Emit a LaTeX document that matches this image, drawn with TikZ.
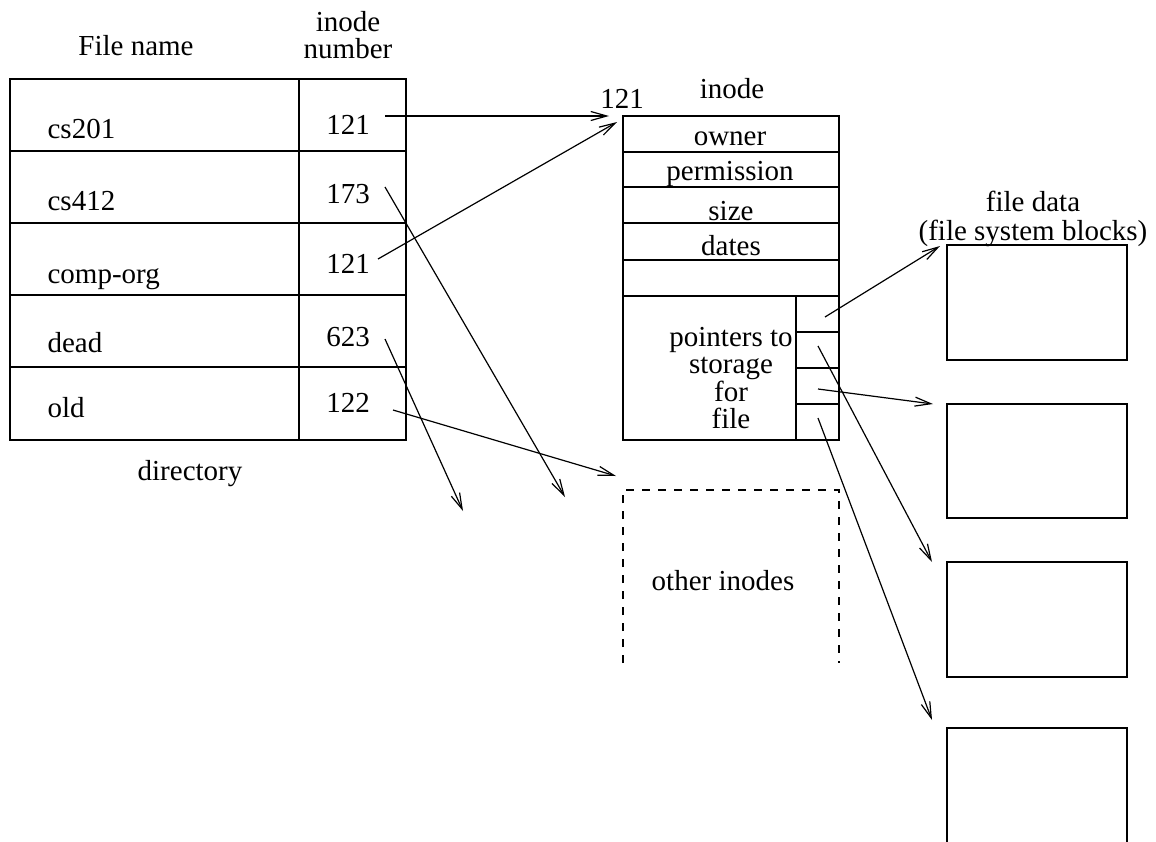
\documentclass[tikz,border=0pt]{standalone}
\usepackage{fontspec}
\setmainfont{Liberation Serif}
\usepackage{tikz}
\usetikzlibrary{arrows.meta}
\tikzstyle{entry} = [inner sep=0pt, font=\fontsize{14.5}{17}\selectfont]
\tikzstyle{fname} = [entry, anchor=base west]
\tikzstyle{inum} = [entry, anchor=base]
\tikzstyle{caption} = [entry, align=center]
\tikzstyle{blk} = [draw=black, line width=0.6pt]
\tikzstyle{others} = [blk, dash pattern=on 4pt off 4pt]
\tikzstyle{ptr} = [-{Straight Barb[length=8pt,width=4.5pt]}, line width=0.6pt]
\newcommand{\edge}[3][]{ %
  % Connect all points #2 to all points #3.
  \foreach \x in {#2} { %
    \foreach \y in {#3} { %
      \path (\x) edge [ptr, #1] (\y) ;%
    } ;
  } ;
}

\begin{document}
\begin{tikzpicture}[x=0.5pt, y=-0.5pt, line width=0.6pt]
  \useasboundingbox (0,0) rectangle (1156,841);
  \clip (0,0) rectangle (1156,841);
  % directory
  \node[inum](hname) at (136,55) {File name};
  \node[caption, font=\fontsize{14.5}{13.2}\selectfont](hnum) at (348,35) {inode\\number};
  \draw[blk] (10,79) rectangle (406,440);
  \draw[blk] (299,79) -- (299,440);
  \foreach \y in {151,223,295,367}
    \draw[blk] (10,\y) -- (406,\y);
  \node[fname](n1) at (47,138) {cs201};
  \node[fname](n2) at (47,210) {cs412};
  \node[fname](n3) at (47,283) {comp-org};
  \node[fname](n4) at (47,352) {dead};
  \node[fname](n5) at (47,417) {old};
  \node[inum](i1) at (348,134) {121};
  \node[inum](i2) at (348,203) {173};
  \node[inum](i3) at (348,273) {121};
  \node[inum](i4) at (348,346) {623};
  \node[inum](i5) at (348,412) {122};
  \node[inum](dir) at (190,480) {directory};
  % inode
  \node[inum](inum) at (622,108) {121};
  \node[inum](ititle) at (732,98) {inode};
  \draw[blk] (623,116) rectangle (839,440);
  \foreach \y in {152,187,223,260,296}
    \draw[blk] (623,\y) -- (839,\y);
  \draw[blk] (796,296) -- (796,440);
  \foreach \y in {332,368,404}
    \draw[blk] (796,\y) -- (839,\y);
  \node[inum](owner) at (730,145) {owner};
  \node[inum](perm) at (730,180) {permission};
  \node[inum](size) at (731,220) {size};
  \node[inum](dates) at (731,255) {dates};
  \node[caption, font=\fontsize{14.5}{13.3}\selectfont](ptrs) at (731,378) {pointers to\\storage\\for\\file};
  % other inodes
  \draw[others] (623,663) -- (623,490) -- (839,490) -- (839,663);
  \node[inum](oth) at (723,590) {other inodes};
  % file data
  \node[caption, font=\fontsize{14.5}{14.5}\selectfont](fdata) at (1033,219) {file data\\(file system blocks)};
  \draw[blk] (947,245) rectangle (1127,360);
  \draw[blk] (947,404) rectangle (1127,518);
  \draw[blk] (947,562) rectangle (1127,677);
  \draw[blk] (947,728) rectangle (1127,850);
  \coordinate (s1) at (385,116);
  \coordinate (t1) at (609,116);
  \coordinate (s2) at (385,187);
  \coordinate (t2) at (565,497);
  \coordinate (s3) at (378,259);
  \coordinate (t3) at (617,122);
  \coordinate (s4) at (385,339);
  \coordinate (t4) at (463,511);
  \coordinate (s5) at (393,410);
  \coordinate (t5) at (616,476);
  \coordinate (p1) at (825,317);
  \coordinate (b1) at (940,246);
  \coordinate (p2) at (818,346);
  \coordinate (b3) at (932,562);
  \coordinate (p3) at (818,389);
  \coordinate (b2) at (933,404);
  \coordinate (p4) at (818,418);
  \coordinate (b4) at (932,720);
  \edge{s1}{t1};
  \edge{s2}{t2};
  \edge{s3}{t3};
  \edge{s4}{t4};
  \edge{s5}{t5};
  \edge{p1}{b1};
  \edge{p2}{b3};
  \edge{p3}{b2};
  \edge{p4}{b4};
\end{tikzpicture}
\end{document}
